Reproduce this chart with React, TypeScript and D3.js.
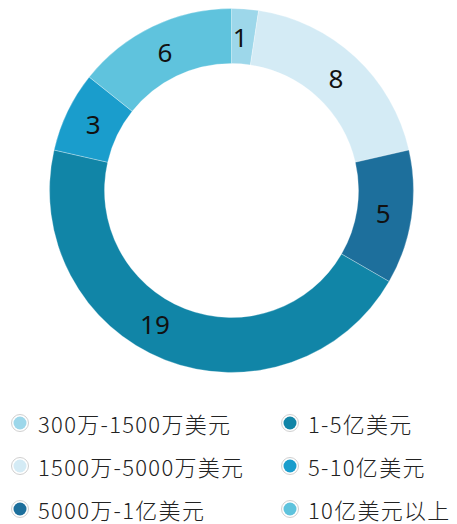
import React from "react";
import * as d3 from "d3";

const categories = ["300万-1500万美元", "1500万-5000万美元", "5000万-1亿美元", "1-5亿美元", "5-10亿美元", "10亿美元以上"];
const values = [1, 8, 5, 19, 3, 6];
const colors = ["#9dd7ea", "#d4ebf5", "#1d6f9c", "#1185a7", "#1a9dcc", "#5fc3dd"];
// label angle nudge (degrees) for readability, as in the original
const labelShift = [-1, 0, 0, 8.5, 0, 0];

export default function App() {
  const W = 457, H = 524;
  const cx = 231.5, cy = 190.5, rOut = 182, rIn = 127;
  const pie = d3.pie<number>().sort(null).value((d) => d);
  const arcs = pie(values);
  const arc = d3.arc<d3.PieArcDatum<number>>().innerRadius(rIn).outerRadius(rOut);
  const rLab = (rIn + rOut) / 2 - 1;
  const legendX = [20, 290];
  const legendY = [423, 466, 509];
  return (
    <svg width={W} height={H} style={{ position: "absolute", left: 0, top: 0 }}>
      <g transform={`translate(${cx},${cy})`}>
        {arcs.map((a, i) => (
          <path key={i} d={arc(a) || ""} fill={colors[i]} stroke="#ffffff" strokeWidth={0.3} />
        ))}
        {arcs.map((a, i) => {
          const ang = (a.startAngle + a.endAngle) / 2 + (labelShift[i] * Math.PI) / 180;
          const x = rLab * Math.sin(ang);
          const y = -rLab * Math.cos(ang);
          return (
            <text key={i} x={x} y={y} textAnchor="middle" dominantBaseline="central" fontFamily="'Noto Sans', 'Noto Sans CJK SC', sans-serif" fontSize={26} fill="#111">
              {values[i]}
            </text>
          );
        })}
      </g>
      {categories.map((c, i) => {
        const col = Math.floor(i / 3);
        const row = i % 3;
        const x = legendX[col];
        const y = legendY[row];
        return (
          <g key={c}>
            <circle cx={x} cy={y} r={8.5} fill="#fff" stroke="#d0d0d0" strokeWidth={1} />
            <circle cx={x} cy={y} r={6.5} fill={colors[i]} />
            <text x={x + 18} y={y} dominantBaseline="central" fontFamily="'Noto Sans CJK SC', sans-serif" fontWeight={300} fontSize={22} letterSpacing={1.3} fill="#222">
              {c}
            </text>
          </g>
        );
      })}
    </svg>
  );
}
